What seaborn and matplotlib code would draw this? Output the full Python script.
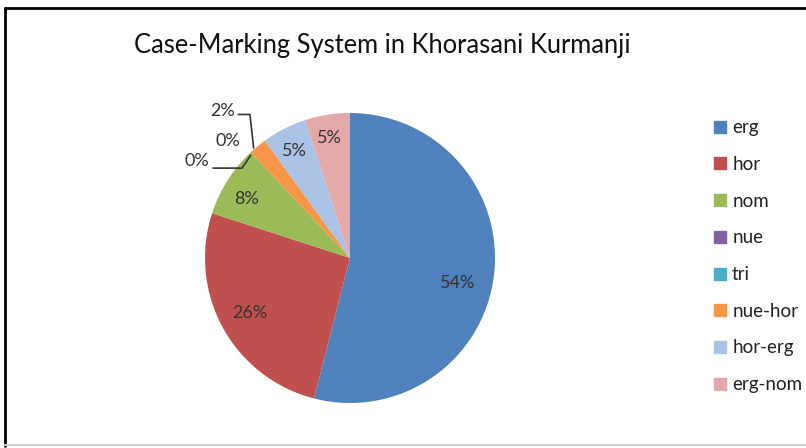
import numpy as np
import seaborn as sns
import matplotlib.pyplot as plt
from matplotlib.lines import Line2D

# Data
categories = ["erg", "hor", "nom", "nue", "tri", "nue-hor", "hor-erg", "erg-nom"]
shares = [54, 26, 8, 0, 0, 2, 5, 5]
pct_labels = ["54%", "26%", "8%", "0%", "0%", "2%", "5%", "5%"]

# Office 2007 style chart colours
colors = ["#4F81BD", "#C0504D", "#9BBB59", "#8064A2",
          "#4BACC6", "#F79646", "#A9C2E6", "#E3A9A8"]

sns.set_theme(style = "white")
plt.rcParams['font.family'] = ['Lato', 'DejaVu Sans']

fig = plt.figure(figsize = (8.06, 4.48), dpi = 100)
fig.patch.set_facecolor("white")

# frame of the chart area (black left/top, grey bottom)
fig.add_artist(Line2D([5/806, 5/806], [2/448, 440/448], color = "black", lw = 2))
fig.add_artist(Line2D([5/806, 1], [440/448, 440/448], color = "black", lw = 2))
fig.add_artist(Line2D([5/806, 1], [3/448, 3/448], color = "#cccccc", lw = 1.5))

fig.text(0.5 * (135 + 630) / 806, 1 - 46/448,
         "Case-Marking System in Khorasani Kurmanji",
         ha = "center", va = "center", fontsize = 18.4, color = "#111111")

ax = fig.add_axes([205/806, 45/448, 290/806, 290/448])
wedges, _ = ax.pie(shares, colors = colors, startangle = 90,
                   counterclock = False, radius = 1,
                   wedgeprops = dict(linewidth = 0))
ax.set_xlim(-1, 1)
ax.set_ylim(-1, 1)
ax.set_aspect("equal")
ax.axis("off")

lab_kw = dict(ha = "center", va = "center", fontsize = 13, color = "#333333")

# inside labels: (radius, angle tweak in degrees) from each wedge's mid angle
inside_pos = {0: (0.76, -5.7), 1: (0.79, 0), 2: (0.82, 2.8),
              6: (0.83, 0.5), 7: (0.84, 0.5)}
for i, (r, tweak) in inside_pos.items():
    w = wedges[i]
    mid = np.deg2rad((w.theta1 + w.theta2) / 2 + tweak)
    ax.text(r * np.cos(mid), r * np.sin(mid), pct_labels[i], **lab_kw)

# outside labels for the tiny slices, with leader lines
edge = np.deg2rad(wedges[5].theta2)
ex, ey = np.cos(edge), np.sin(edge)
ax.text(-0.876, 1.014, pct_labels[5], **lab_kw)
ax.plot([-0.77, -0.69, ex + 0.02], [0.99, 0.99, ey + 0.03],
        color = "#333333", lw = 1.2, clip_on = False)
ax.text(-0.84, 0.81, pct_labels[4], **lab_kw)
ax.text(-1.055, 0.67, pct_labels[3], **lab_kw)
ax.plot([-0.945, -0.745, ex - 0.0], [0.62, 0.62, ey - 0.02],
        color = "#333333", lw = 1.2, clip_on = False)

handles = [Line2D([], [], marker = "s", linestyle = "", markersize = 8.5,
                  markerfacecolor = c, markeredgecolor = c) for c in colors]
fig.legend(handles, categories, loc = "upper left",
           bbox_to_anchor = (704/806, 1 - 110/448), frameon = False,
           fontsize = 13.5, labelspacing = 1.05, handlelength = 0.75,
           handletextpad = 0.25, borderpad = 0, labelcolor = "#222222")

fig.savefig("out.png", dpi = 100, facecolor = "white")
